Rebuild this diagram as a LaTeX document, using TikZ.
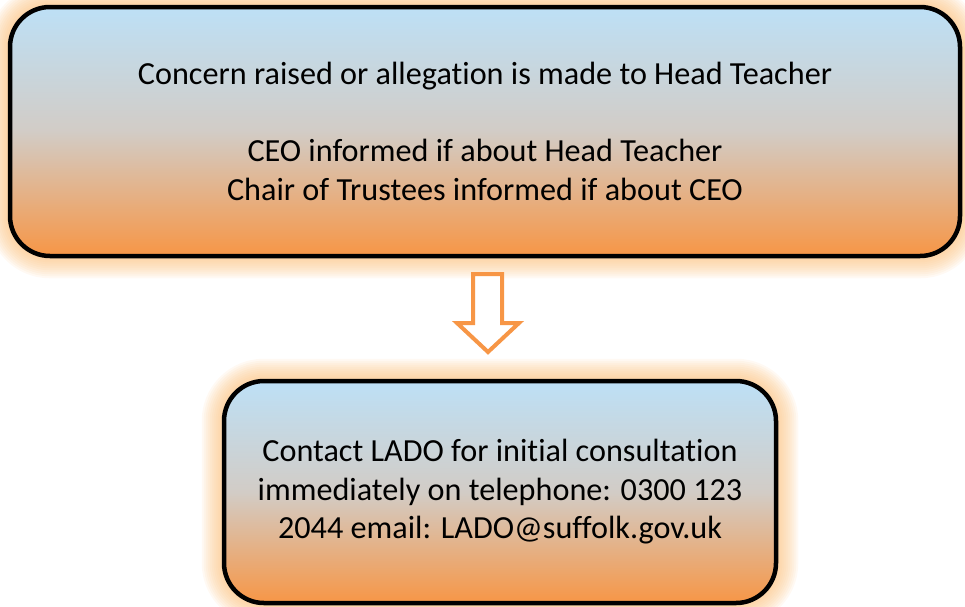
\documentclass[tikz,border=0pt]{standalone}
\usepackage{fontspec}
\setmainfont{Carlito}[Ligatures=NoCommon]
\usetikzlibrary{backgrounds}

\definecolor{skytop}{RGB}{189,224,246}
\definecolor{midgrey}{RGB}{210,204,198}
\definecolor{orangebot}{RGB}{247,150,70}
\definecolor{glowcol}{RGB}{251,190,120}
\definecolor{arrowcol}{RGB}{247,150,70}

\tikzset{
  box/.style={rectangle, rounded corners=40pt, draw=black, line width=4.5pt,
    top color=skytop, bottom color=orangebot, middle color=midgrey,
    align=center, font=\fontsize{32.2}{38.5}\selectfont, inner sep=0pt},
  glow/.style={draw=glowcol, rounded corners=42pt, line join=round}
}

\begin{document}
\begin{tikzpicture}[x=1pt,y=-1pt]
  \useasboundingbox (0,0) rectangle (965,606);
  \node[box, minimum width=950pt, minimum height=249pt](head) at (485,131.5)
    {Concern raised or allegation is made to Head Teacher\\[38.5pt]
     CEO informed if about Head Teacher\\
     Chair of Trustees informed if about CEO};
  \node[box, minimum width=552pt, minimum height=222pt](lado) at (500,492)
    {Contact LADO for initial consultation\\
     immediately on telephone: 0300 123\\
     2044 email: LADO@suffolk.gov.uk};

  % soft glow behind both boxes
  \begin{scope}[on background layer]
    \foreach \w in {4,8,...,40}{
      \draw[glow, line width=\w pt, draw opacity=0.09] (head.north west) rectangle (head.south east);
      \draw[glow, line width=\w pt, draw opacity=0.09] (lado.north west) rectangle (lado.south east);
    }
  \end{scope}

  % hollow block arrow
  \draw[arrowcol, line width=4pt, fill=white]
    (473,274) -- (502,274) -- (502,323) -- (519,323) -- (488,352)
    -- (457,323) -- (473,323) -- cycle;
\end{tikzpicture}
\end{document}
